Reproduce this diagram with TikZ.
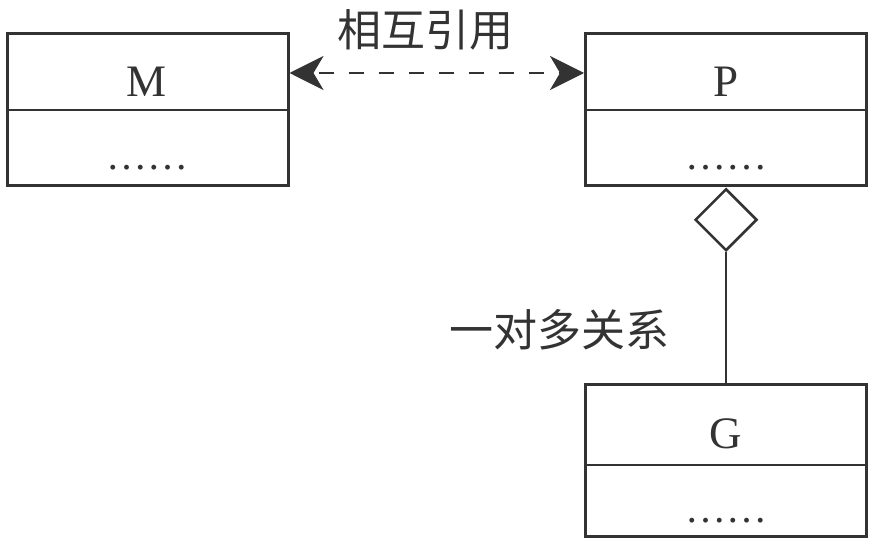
\documentclass[tikz,border=0pt]{standalone}
\usepackage{fontspec}
\setmainfont{Liberation Serif}
\newfontfamily\cjk{Noto Sans CJK SC}
\usetikzlibrary{arrows.meta,shapes.geometric}
\definecolor{ink}{HTML}{333333}
\begin{document}
\begin{tikzpicture}[x=1pt,y=-1pt,
  classbox/.style={draw=ink, line width=3pt, minimum width=281pt, minimum height=152pt, inner sep=0pt},
  divider/.style={draw=ink, line width=2.6pt},
  classname/.style={anchor=base, inner sep=0pt, text=ink, font=\fontsize{45}{45}\selectfont},
  members/.style={anchor=base, inner sep=0pt, text=ink, font=\fontsize{41}{41}\selectfont},
  cjklabel/.style={inner sep=0pt, text=ink, font=\cjk\fontsize{44}{44}\selectfont},
  reference/.style={draw=ink, line width=2.5pt, dash pattern=on 15pt off 15pt, dash phase=-6pt,
    {Stealth[length=34pt, width=34pt, inset=10pt]}-{Stealth[length=34pt, width=34pt, inset=10pt]}},
  aggregation/.style={diamond, draw=ink, line width=2.5pt, fill=white, minimum width=62pt, minimum height=62pt, inner sep=0pt},
  link/.style={draw=ink, line width=2.5pt}]

  % canvas
  \path[fill=white] (0,0) rectangle (878,548);
  \useasboundingbox (0,0) rectangle (878,548);

  % class M
  \node[classbox] (M) at (147.5,110) {};
  \draw[divider] (M.west) -- (M.east);
  \node[classname] (Mname) at (147,97) {M};
  \node[members] (Mdots) at (147,170) {……};

  % class P
  \node[classbox] (P) at (726,110) {};
  \draw[divider] (P.west) -- (P.east);
  \node[classname] (Pname) at (726,97) {P};
  \node[members] (Pdots) at (726,170) {……};

  % class G
  \node[classbox] (G) at (726,460.5) {};
  \draw[divider] ([yshift=-4.5pt]G.west) -- ([yshift=-4.5pt]G.east);
  \node[classname] (Gname) at (726,448) {G};
  \node[members] (Gdots) at (726,522) {……};

  % mutual reference between M and P
  \draw[reference] (M.east |- 0,73) coordinate (mref) -- (P.west |- 0,73) coordinate (pref);
  \node[cjklabel] (reflabel) at (425,30) {相互引用};

  % one-to-many aggregation from P to G
  \node[aggregation, anchor=north] (agg) at (P.south) {};
  \draw[link] (agg.south) -- (G.north);
  \node[cjklabel] (agglabel) at (559,330) {一对多关系};
\end{tikzpicture}
\end{document}
